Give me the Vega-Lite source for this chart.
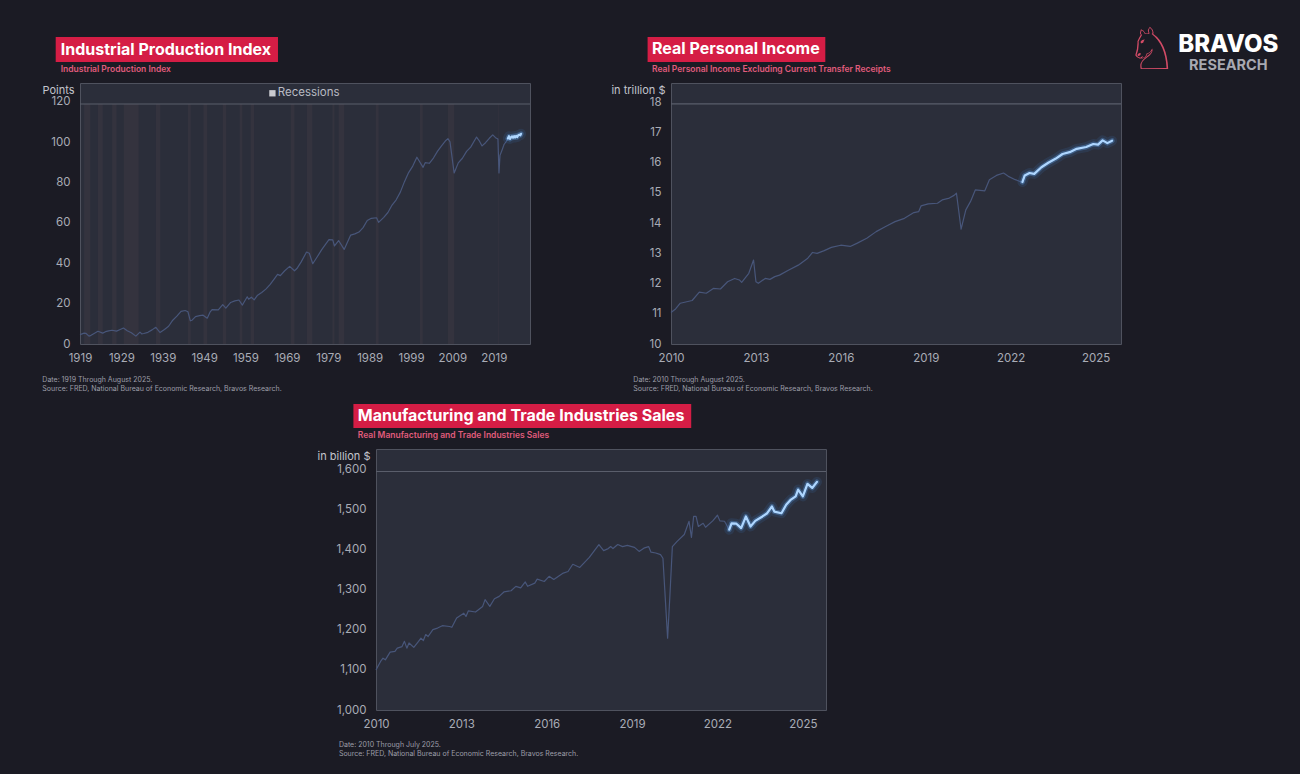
{
  "$schema": "https://vega.github.io/schema/vega-lite/v6.json",
  "background": "#1b1b24",
  "padding": 0,
  "config": {
    "font": "Inter",
    "view": {"stroke": "#4f525e", "fill": "#2b2e3a", "strokeWidth": 1},
    "axis": {
      "domain": false, "grid": false, "ticks": false, "tickSize": 0,
      "labelColor": "#a9acb6", "labelFont": "Inter", "labelFontSize": 11.5,
      "labelFlush": false, "labelOverlap": false,
      "titleColor": "#c3c5cc", "titleFont": "Inter", "titleFontWeight": "normal", "titleFontSize": 11
    },
    "axisX": {"labelPadding": 8},
    "axisY": {"labelPadding": 10, "titleAngle": 0, "titleAlign": "right", "titleBaseline": "middle", "titleX": -6, "titleY": 7}
  },
  "vconcat": [
    {
      "hconcat": [
        {
          "width": 450,
          "height": 261,
          "data": {
            "values": [
              {"date": "1919-01", "value": 4.6}, {"date": "1919-07", "value": 5.0}, {"date": "1920-01", "value": 5.4},
              {"date": "1920-06", "value": 5.3}, {"date": "1921-03", "value": 3.9}, {"date": "1921-09", "value": 4.3},
              {"date": "1922-06", "value": 5.2}, {"date": "1923-05", "value": 6.3}, {"date": "1924-07", "value": 5.4},
              {"date": "1925-03", "value": 6.1}, {"date": "1925-12", "value": 6.5}, {"date": "1926-10", "value": 6.8},
              {"date": "1927-11", "value": 6.4}, {"date": "1928-08", "value": 7.1}, {"date": "1929-07", "value": 7.9},
              {"date": "1930-06", "value": 6.6}, {"date": "1931-06", "value": 5.6}, {"date": "1932-07", "value": 3.9},
              {"date": "1933-07", "value": 5.9}, {"date": "1933-12", "value": 5.0}, {"date": "1934-06", "value": 5.2},
              {"date": "1935-06", "value": 5.8}, {"date": "1936-06", "value": 7.0}, {"date": "1937-05", "value": 8.3},
              {"date": "1938-05", "value": 5.7}, {"date": "1939-06", "value": 7.2}, {"date": "1940-06", "value": 8.8},
              {"date": "1941-06", "value": 11.8}, {"date": "1942-06", "value": 13.8}, {"date": "1943-06", "value": 16.2},
              {"date": "1944-06", "value": 16.6}, {"date": "1945-02", "value": 16.0}, {"date": "1945-09", "value": 11.5},
              {"date": "1946-02", "value": 11.8}, {"date": "1946-12", "value": 13.6}, {"date": "1947-12", "value": 14.1},
              {"date": "1948-10", "value": 14.3}, {"date": "1949-10", "value": 12.8}, {"date": "1950-06", "value": 15.8},
              {"date": "1950-12", "value": 17.0}, {"date": "1952-06", "value": 16.9}, {"date": "1953-07", "value": 19.5},
              {"date": "1954-04", "value": 17.8}, {"date": "1955-06", "value": 20.6}, {"date": "1956-06", "value": 21.4},
              {"date": "1957-06", "value": 21.8}, {"date": "1958-04", "value": 19.3}, {"date": "1959-06", "value": 23.4},
              {"date": "1959-10", "value": 22.2}, {"date": "1960-06", "value": 23.2}, {"date": "1961-02", "value": 21.9},
              {"date": "1961-12", "value": 24.2}, {"date": "1962-12", "value": 25.5}, {"date": "1963-12", "value": 27.2},
              {"date": "1964-12", "value": 29.4}, {"date": "1965-12", "value": 32.2}, {"date": "1966-10", "value": 34.5},
              {"date": "1967-06", "value": 33.9}, {"date": "1968-06", "value": 36.2}, {"date": "1969-09", "value": 38.5},
              {"date": "1970-11", "value": 36.3}, {"date": "1971-06", "value": 37.4}, {"date": "1972-06", "value": 40.6},
              {"date": "1973-10", "value": 45.6}, {"date": "1974-06", "value": 45.0}, {"date": "1975-04", "value": 39.8},
              {"date": "1976-06", "value": 43.5}, {"date": "1977-06", "value": 46.8}, {"date": "1978-06", "value": 49.6},
              {"date": "1979-03", "value": 51.7}, {"date": "1980-02", "value": 51.6}, {"date": "1980-07", "value": 48.6},
              {"date": "1981-07", "value": 51.3}, {"date": "1982-11", "value": 46.9}, {"date": "1983-06", "value": 49.5},
              {"date": "1984-06", "value": 54.0}, {"date": "1985-06", "value": 54.6}, {"date": "1986-06", "value": 55.5},
              {"date": "1987-06", "value": 57.7}, {"date": "1988-06", "value": 61.2}, {"date": "1989-06", "value": 62.3},
              {"date": "1990-09", "value": 62.6}, {"date": "1991-03", "value": 60.3}, {"date": "1992-06", "value": 62.8},
              {"date": "1993-06", "value": 65.2}, {"date": "1994-06", "value": 68.9}, {"date": "1995-06", "value": 71.5},
              {"date": "1996-06", "value": 75.3}, {"date": "1997-06", "value": 80.5}, {"date": "1998-06", "value": 85.0},
              {"date": "1999-06", "value": 88.2}, {"date": "2000-06", "value": 92.6}, {"date": "2001-12", "value": 87.6},
              {"date": "2002-06", "value": 89.9}, {"date": "2003-06", "value": 89.6}, {"date": "2004-06", "value": 92.2},
              {"date": "2005-06", "value": 95.6}, {"date": "2006-06", "value": 98.4}, {"date": "2007-06", "value": 100.9},
              {"date": "2007-12", "value": 101.8}, {"date": "2008-06", "value": 100.2}, {"date": "2009-06", "value": 84.8},
              {"date": "2010-06", "value": 89.8}, {"date": "2011-06", "value": 92.1}, {"date": "2012-06", "value": 95.5},
              {"date": "2013-06", "value": 97.6}, {"date": "2014-11", "value": 102.6}, {"date": "2015-06", "value": 101.0},
              {"date": "2016-03", "value": 98.2}, {"date": "2017-01", "value": 99.8}, {"date": "2017-12", "value": 102.0},
              {"date": "2018-10", "value": 103.7}, {"date": "2019-06", "value": 102.3}, {"date": "2020-01", "value": 101.6},
              {"date": "2020-04", "value": 84.8}, {"date": "2020-07", "value": 93.5}, {"date": "2021-01", "value": 96.2},
              {"date": "2021-07", "value": 99.0}, {"date": "2022-01", "value": 100.4}, {"date": "2022-06", "value": 101.9},
              {"date": "2022-09", "value": 103.0}, {"date": "2022-12", "value": 101.7}, {"date": "2023-03", "value": 102.5},
              {"date": "2023-06", "value": 102.9}, {"date": "2023-09", "value": 102.3}, {"date": "2023-12", "value": 103.0},
              {"date": "2024-03", "value": 102.4}, {"date": "2024-06", "value": 103.2}, {"date": "2024-09", "value": 102.6},
              {"date": "2024-12", "value": 103.5}, {"date": "2025-03", "value": 103.8}, {"date": "2025-06", "value": 103.5},
              {"date": "2025-08", "value": 104.2}
            ],
            "format": {"parse": {"date": "utc:'%Y-%m'"}}
          },
          "layer": [
            {
              "data": {"values": [{}]},
              "mark": {"type": "rect", "opacity": 0},
              "encoding": {
                "x": {"datum": {"year": 1899, "month": 11, "date": 3, "utc": true}, "type": "temporal"},
                "x2": {"datum": {"year": 2214, "month": 1, "date": 1, "utc": true}},
                "y": {"datum": 169.9, "type": "quantitative"},
                "y2": {"datum": -27.4}
              }
            },
            {
              "data": {
                "values": [
                  {"start": "1920-01", "end": "1921-07"}, {"start": "1923-05", "end": "1924-07"},
                  {"start": "1926-10", "end": "1927-11"}, {"start": "1929-08", "end": "1933-03"},
                  {"start": "1937-05", "end": "1938-06"}, {"start": "1945-02", "end": "1945-10"},
                  {"start": "1948-11", "end": "1949-10"}, {"start": "1953-07", "end": "1954-05"},
                  {"start": "1957-08", "end": "1958-04"}, {"start": "1960-04", "end": "1961-02"},
                  {"start": "1969-12", "end": "1970-11"}, {"start": "1973-11", "end": "1975-03"},
                  {"start": "1980-01", "end": "1980-07"}, {"start": "1981-07", "end": "1982-11"},
                  {"start": "1990-07", "end": "1991-03"}, {"start": "2001-03", "end": "2001-11"},
                  {"start": "2007-12", "end": "2009-06"}, {"start": "2020-02", "end": "2020-04"}
                ],
                "format": {"parse": {"start": "utc:'%Y-%m'", "end": "utc:'%Y-%m'"}}
              },
              "mark": {"type": "rect", "color": "#4a3f4a", "opacity": 0.3},
              "encoding": {
                "x": {"field": "start", "type": "temporal", "title": null},
                "x2": {"field": "end"},
                "y": {"datum": 0, "type": "quantitative"},
                "y2": {"datum": 119}
              }
            },
            {
              "mark": {"type": "rule", "color": "#5a5e6b", "strokeWidth": 1.2},
              "data": {"values": [{}]},
              "encoding": {"y": {"datum": 119, "type": "quantitative"}}
            },
            {
              "mark": {"type": "line", "color": "#48567a", "strokeWidth": 1.2, "strokeJoin": "round"},
              "encoding": {
                "x": {
                  "field": "date", "type": "temporal", "title": null,
                  "scale": {"type": "utc", "nice": false, "domain": [{"year": 1919, "month": 1, "date": 1, "utc": true}, {"year": 2027, "month": 10, "date": 1, "utc": true}]},
                  "axis": {
                    "format": "%Y", "tickCount": 12,
                    "values": [
                      {"year": 1919, "utc": true}, {"year": 1929, "utc": true}, {"year": 1939, "utc": true},
                      {"year": 1949, "utc": true}, {"year": 1959, "utc": true}, {"year": 1969, "utc": true},
                      {"year": 1979, "utc": true}, {"year": 1989, "utc": true}, {"year": 1999, "utc": true},
                      {"year": 2009, "utc": true}, {"year": 2019, "utc": true}
                    ]
                  }
                },
                "y": {
                  "field": "value", "type": "quantitative",
                  "scale": {"domain": [0, 129.4], "nice": false, "zero": false},
                  "axis": {"title": "Points", "tickCount": 10, "values": [0, 20, 40, 60, 80, 100, 120]}
                }
              }
            },
            {
              "transform": [{"filter": "datum.date >= utc(2022, 5, 1)"}],
              "mark": {"type": "line", "color": "#3d7fd0", "strokeWidth": 10, "opacity": 0.14, "strokeJoin": "round", "strokeCap": "round"},
              "encoding": {"x": {"field": "date", "type": "temporal"}, "y": {"field": "value", "type": "quantitative"}}
            },
            {
              "transform": [{"filter": "datum.date >= utc(2022, 5, 1)"}],
              "mark": {"type": "line", "color": "#5d9fe8", "strokeWidth": 5, "opacity": 0.35, "strokeJoin": "round", "strokeCap": "round"},
              "encoding": {"x": {"field": "date", "type": "temporal"}, "y": {"field": "value", "type": "quantitative"}}
            },
            {
              "transform": [{"filter": "datum.date >= utc(2022, 5, 1)"}],
              "mark": {"type": "line", "color": "#aed6ff", "strokeWidth": 2.2, "strokeJoin": "round", "strokeCap": "round"},
              "encoding": {"x": {"field": "date", "type": "temporal"}, "y": {"field": "value", "type": "quantitative"}}
            },
            {
              "data": {"values": [{}]},
              "mark": {"type": "rect", "color": "#d51d45"},
              "encoding": {
                "x": {"datum": {"year": 1913, "month": 2, "date": 17, "utc": true}, "type": "temporal"},
                "x2": {"datum": {"year": 1966, "month": 11, "date": 6, "utc": true}},
                "y": {"datum": 139.8, "type": "quantitative"},
                "y2": {"datum": 152.2}
              }
            },
            {
              "data": {"values": [{}]},
              "mark": {"type": "text", "text": "Industrial Production Index", "color": "#ffffff", "font": "Inter", "fontWeight": "bold", "fontSize": 16, "align": "left", "baseline": "middle"},
              "encoding": {
                "x": {"datum": {"year": 1914, "month": 5, "date": 4, "utc": true}, "type": "temporal"},
                "y": {"datum": 146.0, "type": "quantitative"}
              }
            },
            {
              "data": {"values": [{}]},
              "mark": {"type": "text", "text": "Industrial Production Index", "color": "#e05c7c", "font": "Inter", "fontWeight": 600, "fontSize": 8.5, "align": "left", "baseline": "middle"},
              "encoding": {
                "x": {"datum": {"year": 1914, "month": 5, "date": 4, "utc": true}, "type": "temporal"},
                "y": {"datum": 136.5, "type": "quantitative"}
              }
            },
            {
              "data": {"values": [{}]},
              "mark": {"type": "text", "text": ["Date: 1919 Through August 2025.", "Source: FRED, National Bureau of Economic Research, Bravos Research."], "color": "#9d9ea8", "font": "Inter", "fontSize": 7, "lineHeight": 9, "align": "left", "baseline": "top"},
              "encoding": {
                "x": {"datum": {"year": 1909, "month": 11, "date": 25, "utc": true}, "type": "temporal"},
                "y": {"datum": -15.9, "type": "quantitative"}
              }
            },
            {
              "data": {"values": [{}]},
              "mark": {"type": "point", "shape": "square", "filled": true, "size": 40, "color": "#c9cacf", "opacity": 1},
              "encoding": {
                "x": {"datum": {"year": 1965, "month": 7, "date": 1, "utc": true}, "type": "temporal"},
                "y": {"datum": 124.3, "type": "quantitative"}
              }
            },
            {
              "data": {"values": [{}]},
              "mark": {"type": "text", "text": "Recessions", "color": "#b9bbc3", "font": "Inter", "fontSize": 11.5, "align": "left", "baseline": "middle"},
              "encoding": {
                "x": {"datum": {"year": 1966, "month": 10, "date": 12, "utc": true}, "type": "temporal"},
                "y": {"datum": 124.3, "type": "quantitative"}
              }
            }
          ]
        },
        {
          "width": 450,
          "height": 261,
          "data": {
            "values": [
              {"date": "2010-01", "value": 11.04}, {"date": "2010-03", "value": 11.16}, {"date": "2010-05", "value": 11.35},
              {"date": "2010-10", "value": 11.44}, {"date": "2011-01", "value": 11.72}, {"date": "2011-04", "value": 11.68},
              {"date": "2011-07", "value": 11.84}, {"date": "2011-10", "value": 11.82}, {"date": "2012-01", "value": 12.06},
              {"date": "2012-04", "value": 12.17}, {"date": "2012-06", "value": 12.12}, {"date": "2012-07", "value": 12.04},
              {"date": "2012-10", "value": 12.34}, {"date": "2012-12", "value": 12.78}, {"date": "2013-01", "value": 12.06},
              {"date": "2013-02", "value": 12.01}, {"date": "2013-05", "value": 12.17}, {"date": "2013-07", "value": 12.14},
              {"date": "2013-09", "value": 12.23}, {"date": "2013-11", "value": 12.28}, {"date": "2014-03", "value": 12.45},
              {"date": "2014-07", "value": 12.61}, {"date": "2014-11", "value": 12.84}, {"date": "2015-01", "value": 13.03},
              {"date": "2015-03", "value": 13.0}, {"date": "2015-06", "value": 13.09}, {"date": "2015-09", "value": 13.2},
              {"date": "2016-01", "value": 13.27}, {"date": "2016-05", "value": 13.23}, {"date": "2016-08", "value": 13.34},
              {"date": "2016-12", "value": 13.5}, {"date": "2017-04", "value": 13.72}, {"date": "2017-08", "value": 13.89},
              {"date": "2017-12", "value": 14.05}, {"date": "2018-04", "value": 14.16}, {"date": "2018-08", "value": 14.35},
              {"date": "2018-10", "value": 14.38}, {"date": "2018-11", "value": 14.57}, {"date": "2019-02", "value": 14.64},
              {"date": "2019-06", "value": 14.66}, {"date": "2019-08", "value": 14.77}, {"date": "2019-11", "value": 14.83},
              {"date": "2020-01", "value": 14.92}, {"date": "2020-02", "value": 14.99}, {"date": "2020-04", "value": 13.8},
              {"date": "2020-06", "value": 14.44}, {"date": "2020-08", "value": 14.72}, {"date": "2020-10", "value": 15.1},
              {"date": "2021-02", "value": 15.07}, {"date": "2021-04", "value": 15.44}, {"date": "2021-07", "value": 15.58},
              {"date": "2021-10", "value": 15.66}, {"date": "2021-12", "value": 15.55}, {"date": "2022-03", "value": 15.44},
              {"date": "2022-05", "value": 15.38}, {"date": "2022-06", "value": 15.36}, {"date": "2022-07", "value": 15.58},
              {"date": "2022-09", "value": 15.66}, {"date": "2022-11", "value": 15.63}, {"date": "2023-02", "value": 15.85},
              {"date": "2023-05", "value": 16.0}, {"date": "2023-08", "value": 16.13}, {"date": "2023-11", "value": 16.29},
              {"date": "2024-02", "value": 16.35}, {"date": "2024-05", "value": 16.46}, {"date": "2024-09", "value": 16.52},
              {"date": "2024-12", "value": 16.62}, {"date": "2025-02", "value": 16.6}, {"date": "2025-04", "value": 16.74},
              {"date": "2025-06", "value": 16.65}, {"date": "2025-08", "value": 16.73}
            ],
            "format": {"parse": {"date": "utc:'%Y-%m'"}}
          },
          "layer": [
            {
              "mark": {"type": "rule", "color": "#5a5e6b", "strokeWidth": 1.2},
              "data": {"values": [{}]},
              "encoding": {"y": {"datum": 17.95, "type": "quantitative"}}
            },
            {
              "mark": {"type": "line", "color": "#48567a", "strokeWidth": 1.2, "strokeJoin": "round"},
              "encoding": {
                "x": {
                  "field": "date", "type": "temporal", "title": null,
                  "scale": {"type": "utc", "nice": false, "domain": [{"year": 2010, "month": 1, "date": 1, "utc": true}, {"year": 2025, "month": 11, "date": 24, "utc": true}]},
                  "axis": {
                    "format": "%Y", "tickCount": 10,
                    "values": [
                      {"year": 2010, "utc": true}, {"year": 2013, "utc": true}, {"year": 2016, "utc": true},
                      {"year": 2019, "utc": true}, {"year": 2022, "utc": true}, {"year": 2025, "utc": true}
                    ]
                  }
                },
                "y": {
                  "field": "value", "type": "quantitative",
                  "scale": {"domain": [10, 18.64], "nice": false, "zero": false},
                  "axis": {"title": "in trillion $", "tickCount": 12, "values": [10, 11, 12, 13, 14, 15, 16, 17, 18]}
                }
              }
            },
            {
              "transform": [{"filter": "datum.date >= utc(2022, 5, 1)"}],
              "mark": {"type": "line", "color": "#3d7fd0", "strokeWidth": 10, "opacity": 0.14, "strokeJoin": "round", "strokeCap": "round"},
              "encoding": {"x": {"field": "date", "type": "temporal"}, "y": {"field": "value", "type": "quantitative"}}
            },
            {
              "transform": [{"filter": "datum.date >= utc(2022, 5, 1)"}],
              "mark": {"type": "line", "color": "#5d9fe8", "strokeWidth": 5, "opacity": 0.35, "strokeJoin": "round", "strokeCap": "round"},
              "encoding": {"x": {"field": "date", "type": "temporal"}, "y": {"field": "value", "type": "quantitative"}}
            },
            {
              "transform": [{"filter": "datum.date >= utc(2022, 5, 1)"}],
              "mark": {"type": "line", "color": "#aed6ff", "strokeWidth": 2.2, "strokeJoin": "round", "strokeCap": "round"},
              "encoding": {"x": {"field": "date", "type": "temporal"}, "y": {"field": "value", "type": "quantitative"}}
            },
            {
              "data": {"values": [{}]},
              "mark": {"type": "rect", "color": "#d51d45"},
              "encoding": {
                "x": {"datum": {"year": 2009, "month": 3, "date": 5, "utc": true}, "type": "temporal"},
                "x2": {"datum": {"year": 2015, "month": 6, "date": 15, "utc": true}},
                "y": {"datum": 19.335, "type": "quantitative"},
                "y2": {"datum": 20.163}
              }
            },
            {
              "data": {"values": [{}]},
              "mark": {"type": "text", "text": "Real Personal Income", "color": "#ffffff", "font": "Inter", "fontWeight": "bold", "fontSize": 16, "align": "left", "baseline": "middle"},
              "encoding": {
                "x": {"datum": {"year": 2009, "month": 5, "date": 1, "utc": true}, "type": "temporal"},
                "y": {"datum": 19.749, "type": "quantitative"}
              }
            },
            {
              "data": {"values": [{}]},
              "mark": {"type": "text", "text": "Real Personal Income Excluding Current Transfer Receipts", "color": "#e05c7c", "font": "Inter", "fontWeight": 600, "fontSize": 8.5, "align": "left", "baseline": "middle"},
              "encoding": {
                "x": {"datum": {"year": 2009, "month": 5, "date": 1, "utc": true}, "type": "temporal"},
                "y": {"datum": 19.117, "type": "quantitative"}
              }
            },
            {
              "data": {"values": [{}]},
              "mark": {"type": "text", "text": ["Date: 2010 Through August 2025.", "Source: FRED, National Bureau of Economic Research, Bravos Research."], "color": "#9d9ea8", "font": "Inter", "fontSize": 7, "lineHeight": 9, "align": "left", "baseline": "top"},
              "encoding": {
                "x": {"datum": {"year": 2008, "month": 9, "date": 2, "utc": true}, "type": "temporal"},
                "y": {"datum": 8.938, "type": "quantitative"}
              }
            },
            {
              "data": {"values": [{}]},
              "mark": {"type": "text", "text": "♘", "color": "#d24b66", "font": "DejaVu Sans", "fontSize": 58, "align": "center", "baseline": "middle"},
              "encoding": {
                "x": {"datum": {"year": 2026, "month": 12, "date": 26, "utc": true}, "type": "temporal"},
                "y": {"datum": 19.656, "type": "quantitative"}
              }
            },
            {
              "data": {"values": [{}]},
              "mark": {"type": "text", "text": "BRAVOS", "color": "#ffffff", "font": "Inter", "fontWeight": 800, "fontSize": 24, "align": "center", "baseline": "middle"},
              "encoding": {
                "x": {"datum": {"year": 2029, "month": 9, "date": 9, "utc": true}, "type": "temporal"},
                "y": {"datum": 19.888, "type": "quantitative"}
              }
            },
            {
              "data": {"values": [{}]},
              "mark": {"type": "text", "text": "RESEARCH", "color": "#a8a9b2", "font": "Inter", "fontWeight": "bold", "fontSize": 14.5, "align": "center", "baseline": "middle"},
              "encoding": {
                "x": {"datum": {"year": 2029, "month": 9, "date": 9, "utc": true}, "type": "temporal"},
                "y": {"datum": 19.193, "type": "quantitative"}
              }
            }
          ]
        }
      ],
      "spacing": 141,
      "bounds": "flush"
    },
    {
      "hconcat": [
        {
          "width": 296,
          "height": 261,
          "view": {"stroke": null, "fill": null},
          "data": {"values": [{}]},
          "mark": {"type": "point", "opacity": 0}
        },
        {
          "width": 450,
          "height": 261,
          "data": {
            "values": [
              {"date": "2010-01", "value": 1100}, {"date": "2010-03", "value": 1121}, {"date": "2010-04", "value": 1129},
              {"date": "2010-05", "value": 1125}, {"date": "2010-07", "value": 1144}, {"date": "2010-09", "value": 1146},
              {"date": "2010-10", "value": 1154}, {"date": "2010-12", "value": 1158}, {"date": "2011-01", "value": 1171},
              {"date": "2011-02", "value": 1154}, {"date": "2011-03", "value": 1167}, {"date": "2011-05", "value": 1156},
              {"date": "2011-07", "value": 1171}, {"date": "2011-08", "value": 1179}, {"date": "2011-09", "value": 1173},
              {"date": "2011-10", "value": 1188}, {"date": "2011-11", "value": 1183}, {"date": "2012-01", "value": 1200},
              {"date": "2012-03", "value": 1204}, {"date": "2012-05", "value": 1210}, {"date": "2012-08", "value": 1208},
              {"date": "2012-09", "value": 1206}, {"date": "2012-11", "value": 1229}, {"date": "2013-02", "value": 1241},
              {"date": "2013-03", "value": 1233}, {"date": "2013-04", "value": 1247}, {"date": "2013-07", "value": 1244},
              {"date": "2013-10", "value": 1258}, {"date": "2013-11", "value": 1275}, {"date": "2014-01", "value": 1258},
              {"date": "2014-03", "value": 1277}, {"date": "2014-05", "value": 1283}, {"date": "2014-07", "value": 1294},
              {"date": "2014-10", "value": 1297}, {"date": "2014-12", "value": 1308}, {"date": "2015-02", "value": 1304},
              {"date": "2015-04", "value": 1319}, {"date": "2015-05", "value": 1308}, {"date": "2015-08", "value": 1316},
              {"date": "2015-09", "value": 1326}, {"date": "2015-12", "value": 1320}, {"date": "2016-02", "value": 1333},
              {"date": "2016-04", "value": 1325}, {"date": "2016-08", "value": 1341}, {"date": "2016-10", "value": 1345},
              {"date": "2016-12", "value": 1363}, {"date": "2017-03", "value": 1355}, {"date": "2017-07", "value": 1380},
              {"date": "2017-11", "value": 1412}, {"date": "2018-01", "value": 1397}, {"date": "2018-03", "value": 1402},
              {"date": "2018-04", "value": 1407}, {"date": "2018-05", "value": 1402}, {"date": "2018-07", "value": 1412},
              {"date": "2018-09", "value": 1407}, {"date": "2018-11", "value": 1410}, {"date": "2019-02", "value": 1405},
              {"date": "2019-04", "value": 1395}, {"date": "2019-06", "value": 1403}, {"date": "2019-08", "value": 1407},
              {"date": "2019-09", "value": 1393}, {"date": "2019-11", "value": 1391}, {"date": "2020-01", "value": 1387},
              {"date": "2020-02", "value": 1378}, {"date": "2020-04", "value": 1179}, {"date": "2020-05", "value": 1287},
              {"date": "2020-06", "value": 1407}, {"date": "2020-08", "value": 1420}, {"date": "2020-11", "value": 1437},
              {"date": "2021-01", "value": 1470}, {"date": "2021-02", "value": 1430}, {"date": "2021-03", "value": 1482},
              {"date": "2021-04", "value": 1482}, {"date": "2021-05", "value": 1457}, {"date": "2021-07", "value": 1465},
              {"date": "2021-08", "value": 1455}, {"date": "2021-11", "value": 1471}, {"date": "2022-01", "value": 1485},
              {"date": "2022-02", "value": 1471}, {"date": "2022-04", "value": 1470}, {"date": "2022-06", "value": 1449},
              {"date": "2022-07", "value": 1465}, {"date": "2022-09", "value": 1464}, {"date": "2022-11", "value": 1453},
              {"date": "2023-01", "value": 1482}, {"date": "2023-03", "value": 1457}, {"date": "2023-05", "value": 1471},
              {"date": "2023-08", "value": 1482}, {"date": "2023-10", "value": 1490}, {"date": "2023-12", "value": 1507},
              {"date": "2024-01", "value": 1494}, {"date": "2024-04", "value": 1490}, {"date": "2024-06", "value": 1511},
              {"date": "2024-08", "value": 1524}, {"date": "2024-10", "value": 1532}, {"date": "2024-11", "value": 1549},
              {"date": "2025-01", "value": 1532}, {"date": "2025-03", "value": 1563}, {"date": "2025-05", "value": 1553},
              {"date": "2025-07", "value": 1568}
            ],
            "format": {"parse": {"date": "utc:'%Y-%m'"}}
          },
          "layer": [
            {
              "data": {"values": [{}]},
              "mark": {"type": "rect", "opacity": 0},
              "encoding": {
                "x": {"datum": {"year": 1996, "month": 10, "date": 29, "utc": true}, "type": "temporal"},
                "x2": {"datum": {"year": 2042, "month": 7, "date": 9, "utc": true}},
                "y": {"datum": 1768.8, "type": "quantitative"},
                "y2": {"datum": 837.4}
              }
            },
            {
              "mark": {"type": "rule", "color": "#5a5e6b", "strokeWidth": 1.2},
              "data": {"values": [{}]},
              "encoding": {"y": {"datum": 1594, "type": "quantitative"}}
            },
            {
              "mark": {"type": "line", "color": "#48567a", "strokeWidth": 1.2, "strokeJoin": "round"},
              "encoding": {
                "x": {
                  "field": "date", "type": "temporal", "title": null,
                  "scale": {"type": "utc", "nice": false, "domain": [{"year": 2010, "month": 1, "date": 1, "utc": true}, {"year": 2025, "month": 10, "date": 25, "utc": true}]},
                  "axis": {
                    "format": "%Y", "tickCount": 10,
                    "values": [
                      {"year": 2010, "utc": true}, {"year": 2013, "utc": true}, {"year": 2016, "utc": true},
                      {"year": 2019, "utc": true}, {"year": 2022, "utc": true}, {"year": 2025, "utc": true}
                    ]
                  }
                },
                "y": {
                  "field": "value", "type": "quantitative",
                  "scale": {"domain": [1000, 1650], "nice": false, "zero": false},
                  "axis": {"title": "in billion $", "format": ",d", "tickCount": 10, "values": [1000, 1100, 1200, 1300, 1400, 1500, 1600]}
                }
              }
            },
            {
              "transform": [{"filter": "datum.date >= utc(2022, 5, 1)"}],
              "mark": {"type": "line", "color": "#3d7fd0", "strokeWidth": 10, "opacity": 0.14, "strokeJoin": "round", "strokeCap": "round"},
              "encoding": {"x": {"field": "date", "type": "temporal"}, "y": {"field": "value", "type": "quantitative"}}
            },
            {
              "transform": [{"filter": "datum.date >= utc(2022, 5, 1)"}],
              "mark": {"type": "line", "color": "#5d9fe8", "strokeWidth": 5, "opacity": 0.35, "strokeJoin": "round", "strokeCap": "round"},
              "encoding": {"x": {"field": "date", "type": "temporal"}, "y": {"field": "value", "type": "quantitative"}}
            },
            {
              "transform": [{"filter": "datum.date >= utc(2022, 5, 1)"}],
              "mark": {"type": "line", "color": "#aed6ff", "strokeWidth": 2.2, "strokeJoin": "round", "strokeCap": "round"},
              "encoding": {"x": {"field": "date", "type": "temporal"}, "y": {"field": "value", "type": "quantitative"}}
            },
            {
              "data": {"values": [{}]},
              "mark": {"type": "rect", "color": "#d51d45"},
              "encoding": {
                "x": {"datum": {"year": 2009, "month": 3, "date": 17, "utc": true}, "type": "temporal"},
                "x2": {"datum": {"year": 2021, "month": 1, "date": 29, "utc": true}},
                "y": {"datum": 1702.3, "type": "quantitative"},
                "y2": {"datum": 1762.1}
              }
            },
            {
              "data": {"values": [{}]},
              "mark": {"type": "text", "text": "Manufacturing and Trade Industries Sales", "color": "#ffffff", "font": "Inter", "fontWeight": "bold", "fontSize": 16, "align": "left", "baseline": "middle"},
              "encoding": {
                "x": {"datum": {"year": 2009, "month": 5, "date": 12, "utc": true}, "type": "temporal"},
                "y": {"datum": 1732.2, "type": "quantitative"}
              }
            },
            {
              "data": {"values": [{}]},
              "mark": {"type": "text", "text": "Real Manufacturing and Trade Industries Sales", "color": "#e05c7c", "font": "Inter", "fontWeight": 600, "fontSize": 8.5, "align": "left", "baseline": "middle"},
              "encoding": {
                "x": {"datum": {"year": 2009, "month": 5, "date": 12, "utc": true}, "type": "temporal"},
                "y": {"datum": 1684.9, "type": "quantitative"}
              }
            },
            {
              "data": {"values": [{}]},
              "mark": {"type": "text", "text": ["Date: 2010 Through July 2025.", "Source: FRED, National Bureau of Economic Research, Bravos Research."], "color": "#9d9ea8", "font": "Inter", "fontSize": 7, "lineHeight": 9, "align": "left", "baseline": "top"},
              "encoding": {
                "x": {"datum": {"year": 2008, "month": 9, "date": 12, "utc": true}, "type": "temporal"},
                "y": {"datum": 922.6, "type": "quantitative"}
              }
            }
          ]
        }
      ],
      "spacing": 0,
      "bounds": "flush"
    }
  ],
  "spacing": 0
}
